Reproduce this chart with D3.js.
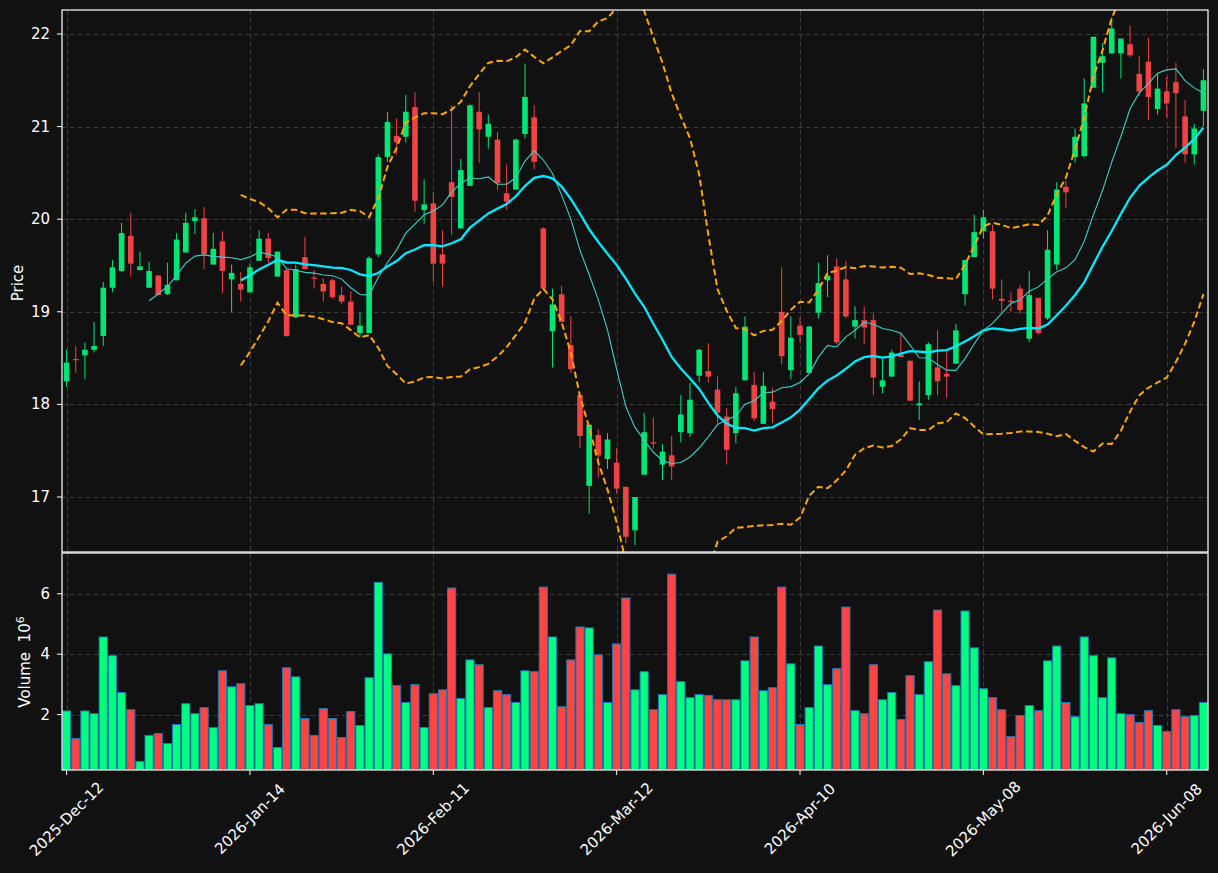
<!DOCTYPE html>
<html>
<head>
<meta charset="utf-8">
<script src="https://cdnjs.cloudflare.com/ajax/libs/d3/7.8.5/d3.min.js"></script>
<style>
  body { margin: 0; background: #111111; }
  text { font-family: "DejaVu Sans", sans-serif; fill: #ffffff; }
</style>
</head>
<body>
<div id="chart"></div>
<script>
// ---------------------------------------------------------
// DATA
// ---------------------------------------------------------

var opens = [18.25,18.49,18.53,18.59,18.74,19.26,19.44,19.82,19.45,19.26,
  19.39,19.19,19.34,19.64,19.98,20.01,19.51,19.76,19.35,19.30,
  19.21,19.55,19.79,19.38,19.45,18.94,19.59,19.37,19.30,19.34,
  19.18,19.11,18.77,18.77,19.62,20.67,20.90,20.89,21.21,20.10,
  20.17,19.62,20.40,19.90,20.36,21.16,20.89,20.86,20.28,20.32,
  20.92,21.10,19.90,18.79,19.19,18.64,18.10,17.12,17.67,17.41,
  17.37,17.11,16.64,17.24,17.59,17.35,17.45,17.70,17.69,18.31,
  18.36,18.16,17.87,17.69,18.26,18.21,17.79,18.03,19.00,18.37,
  18.85,18.34,18.99,19.34,19.49,19.35,18.84,18.91,18.91,18.19,
  18.30,18.54,18.47,17.99,18.10,18.40,18.33,18.44,19.19,19.59,
  19.87,19.87,19.14,19.12,19.25,18.71,19.15,18.93,19.51,20.35,
  20.67,20.68,21.42,21.69,21.79,21.79,21.89,21.57,21.70,21.19,
  21.38,21.48,21.11,20.70,21.17];

var highs = [18.59,18.63,18.67,18.89,19.32,19.56,19.96,20.07,19.65,19.54,
  19.40,19.53,19.85,20.07,20.11,20.13,19.85,19.87,19.51,19.43,
  19.52,19.88,19.85,19.65,19.46,19.51,19.81,19.45,19.36,19.36,
  19.27,19.22,18.99,19.60,20.70,21.16,21.09,21.34,21.37,20.43,
  20.29,19.88,21.23,20.65,21.24,21.37,21.13,20.94,20.59,20.87,
  21.68,21.23,19.91,19.25,19.28,18.95,18.10,17.78,17.73,17.69,
  17.53,17.11,17.00,17.91,17.86,17.57,17.66,18.10,18.23,18.60,
  18.66,18.30,17.96,18.19,18.95,18.35,18.35,18.18,19.48,18.95,
  18.94,18.85,19.53,19.61,19.58,19.55,19.06,19.06,18.98,18.50,
  18.59,18.77,18.48,18.25,18.67,18.80,18.58,18.87,19.56,20.05,
  20.10,19.94,19.35,19.21,19.29,19.44,19.15,19.88,20.40,20.42,
  20.98,21.52,21.97,21.90,22.18,21.95,22.09,21.76,21.96,21.57,
  21.54,21.69,21.29,21.03,21.62];

var lows = [18.19,18.34,18.27,18.56,18.63,19.21,19.43,19.38,19.45,19.26,
  19.18,19.18,19.34,19.64,19.84,19.46,19.51,19.20,19.00,19.11,
  19.21,19.55,19.53,19.38,18.73,18.93,19.46,19.25,19.11,19.14,
  19.08,18.86,18.72,18.77,19.59,20.62,20.70,20.83,20.08,19.95,
  19.32,19.27,19.83,19.90,20.36,20.61,20.76,20.32,20.10,20.32,
  20.87,20.54,19.25,18.40,18.89,18.34,17.53,16.82,17.21,17.30,
  17.04,16.50,16.48,17.24,17.52,17.18,17.18,17.59,17.65,18.24,
  18.24,17.80,17.35,17.58,18.26,17.82,17.79,17.80,18.43,18.27,
  18.67,18.34,18.93,19.16,18.65,18.93,18.71,18.65,18.10,18.12,
  18.30,18.51,18.04,17.83,18.05,18.10,18.07,18.44,19.07,19.59,
  19.79,19.13,19.00,19.00,18.98,18.67,18.75,18.91,19.45,20.12,
  20.61,20.67,21.42,21.37,21.79,21.52,21.75,21.33,21.07,21.13,
  21.10,20.77,20.61,20.59,21.00];

var closes = [18.45,18.48,18.59,18.63,19.26,19.48,19.85,19.52,19.49,19.44,
  19.18,19.29,19.78,19.96,20.02,19.62,19.68,19.44,19.42,19.24,
  19.48,19.79,19.58,19.65,18.74,19.46,19.46,19.36,19.22,19.16,
  19.11,18.86,18.85,19.58,20.67,21.05,20.83,21.16,20.20,20.16,
  19.52,19.52,20.24,20.53,21.23,20.97,21.03,20.39,20.19,20.86,
  21.32,20.62,19.25,19.08,18.89,18.38,17.66,17.78,17.45,17.62,
  17.09,16.57,17.00,17.70,17.58,17.49,17.33,17.89,18.05,18.59,
  18.30,17.91,17.51,18.12,18.84,17.85,18.20,17.95,18.52,18.72,
  18.75,18.84,19.31,19.39,18.67,18.95,18.91,18.83,18.29,18.26,
  18.56,18.51,18.04,18.01,18.65,18.25,18.30,18.80,19.56,19.86,
  20.02,19.25,19.12,19.11,19.02,19.18,18.77,19.67,20.32,20.29,
  20.89,21.25,21.97,21.76,22.06,21.95,21.77,21.38,21.32,21.41,
  21.25,21.36,20.70,20.98,21.50];

// volume in millions
var volumes = [2.12,1.21,2.12,2.03,4.57,3.95,2.73,2.16,0.45,1.31,
  1.37,1.04,1.67,2.36,2.03,2.23,1.57,3.45,2.92,3.02,
  2.30,2.36,1.67,0.91,3.55,3.25,1.87,1.31,2.20,1.87,
  1.24,2.10,1.64,3.22,6.38,4.01,2.96,2.40,2.99,1.57,
  2.69,2.82,6.19,2.53,3.81,3.65,2.23,2.79,2.66,2.40,
  3.45,3.42,6.22,4.57,2.26,3.81,4.90,4.87,3.98,2.40,
  4.34,5.86,2.82,3.42,2.16,2.66,6.65,3.09,2.56,2.66,
  2.63,2.49,2.49,2.49,3.78,4.57,2.79,2.89,6.22,3.68,
  1.67,2.23,4.27,2.99,3.52,5.56,2.13,2.03,3.65,2.49,
  2.73,1.84,3.29,2.66,3.75,5.46,3.35,2.96,5.43,4.21,
  2.86,2.56,2.16,1.27,1.97,2.30,2.13,3.78,4.27,2.40,
  1.93,4.57,3.95,2.56,3.88,2.03,2.00,1.74,2.13,1.64,
  1.44,2.16,1.93,1.97,2.40];

var xTickIndex = [0, 20, 40, 60, 80, 100, 120];
var xTickLabels = ["2025-Dec-12", "2026-Jan-14", "2026-Feb-11", "2026-Mar-12",
  "2026-Apr-10", "2026-May-08", "2026-Jun-08"];
var priceTicks = [17, 18, 19, 20, 21, 22];
var volumeTicks = [2, 4, 6];

// ---------------------------------------------------------
// SET UP PARAMETERS
// ---------------------------------------------------------

var svgWidth = 1218;
var svgHeight = 873;

var plotLeft = 62;
var plotRight = 1208;
var priceTop = 10;
var priceBottom = 552;
var volTop = 553;
var volBottom = 770;

var upColor = "#00e676";
var downColor = "#ef4444";
var volUp = "#00ff7f";
var volDown = "#ff4444";
var gridColor = "#3a3a3a";
var fontSize = "15px";

var candles = opens.map(function(o, i) {
  return { i: i, open: o, high: highs[i], low: lows[i], close: closes[i], volume: volumes[i] };
});

var svg = d3.select("#chart")
  .append("svg")
  .attr("width", svgWidth)
  .attr("height", svgHeight);

svg.append("rect")
  .attr("width", svgWidth)
  .attr("height", svgHeight)
  .attr("fill", "#111111");

// scales
var xScale = d3.scaleLinear()
  .domain([-0.5, candles.length - 0.5])
  .range([plotLeft, plotRight]);

var yPrice = d3.scaleLinear()
  .domain([16.406, 22.259])
  .range([priceBottom, priceTop]);

var yVol = d3.scaleLinear()
  .domain([0.165, 7.35])
  .range([volBottom, volTop]);

var defs = svg.append("defs");
defs.append("clipPath").attr("id", "clipPrice")
  .append("rect")
  .attr("x", plotLeft).attr("y", priceTop)
  .attr("width", plotRight - plotLeft).attr("height", priceBottom - priceTop);
defs.append("clipPath").attr("id", "clipVol")
  .append("rect")
  .attr("x", plotLeft).attr("y", volTop)
  .attr("width", plotRight - plotLeft).attr("height", volBottom - volTop);

// ---------------------------------------------------------
// GRID
// ---------------------------------------------------------

var grid = svg.append("g")
  .attr("stroke", gridColor)
  .attr("stroke-width", 1)
  .attr("stroke-dasharray", "5,3");

xTickIndex.forEach(function(t) {
  var x = Math.round(xScale(t)) + 0.5;
  grid.append("line").attr("x1", x).attr("x2", x).attr("y1", priceTop).attr("y2", priceBottom);
  grid.append("line").attr("x1", x).attr("x2", x).attr("y1", volTop).attr("y2", volBottom);
});
priceTicks.forEach(function(p) {
  var y = Math.round(yPrice(p)) + 0.5;
  grid.append("line").attr("x1", plotLeft).attr("x2", plotRight).attr("y1", y).attr("y2", y);
});
volumeTicks.forEach(function(v) {
  var y = Math.round(yVol(v)) + 0.5;
  grid.append("line").attr("x1", plotLeft).attr("x2", plotRight).attr("y1", y).attr("y2", y);
});

// ---------------------------------------------------------
// CANDLES
// ---------------------------------------------------------

var priceGroup = svg.append("g").attr("clip-path", "url(#clipPrice)");

priceGroup.selectAll(".wick")
  .data(candles)
  .enter()
  .append("line")
  .attr("class", "wick")
  .attr("x1", d => xScale(d.i))
  .attr("x2", d => xScale(d.i))
  .attr("y1", d => yPrice(d.high))
  .attr("y2", d => yPrice(d.low))
  .attr("stroke", d => d.close >= d.open ? upColor : downColor)
  .attr("stroke-width", 1);

var bodyWidth = 5.6;
priceGroup.selectAll(".body")
  .data(candles)
  .enter()
  .append("rect")
  .attr("class", "body")
  .attr("x", d => xScale(d.i) - bodyWidth / 2)
  .attr("y", d => yPrice(Math.max(d.open, d.close)))
  .attr("width", bodyWidth)
  .attr("height", d => Math.max(1.2, Math.abs(yPrice(d.open) - yPrice(d.close))))
  .attr("fill", d => d.close >= d.open ? upColor : downColor);

// ---------------------------------------------------------
// MOVING AVERAGES + BOLLINGER BANDS (from closes)
// ---------------------------------------------------------

function rolling(n) {
  var out = [];
  for (var i = n - 1; i < closes.length; i++) {
    var win = closes.slice(i - n + 1, i + 1);
    var m = d3.mean(win);
    var sd = Math.sqrt(d3.mean(win, c => (c - m) * (c - m)));
    out.push({ i: i, mean: m, up: m + 2 * sd, lo: m - 2 * sd });
  }
  return out;
}

var ma10 = rolling(10);
var ma20 = rolling(20);

var line = function(key) {
  return d3.line().x(d => xScale(d.i)).y(d => yPrice(d[key]));
};

["up", "lo"].forEach(function(key) {
  priceGroup.append("path")
    .datum(ma20)
    .attr("d", line(key))
    .attr("fill", "none")
    .attr("stroke", "#ffa500")
    .attr("stroke-width", 2)
    .attr("stroke-dasharray", "6.5,3.5");
});

priceGroup.append("path")
  .datum(ma10)
  .attr("d", line("mean"))
  .attr("fill", "none")
  .attr("stroke", "#3ccfc6")
  .attr("stroke-width", 1.1);

priceGroup.append("path")
  .datum(ma20)
  .attr("d", line("mean"))
  .attr("fill", "none")
  .attr("stroke", "#00eaff")
  .attr("stroke-width", 2.3);

// ---------------------------------------------------------
// VOLUME
// ---------------------------------------------------------

var volGroup = svg.append("g").attr("clip-path", "url(#clipVol)");
var volWidth = 8.2;

volGroup.selectAll(".vol")
  .data(candles)
  .enter()
  .append("rect")
  .attr("class", "vol")
  .attr("x", d => xScale(d.i) - volWidth / 2)
  .attr("y", d => yVol(d.volume))
  .attr("width", volWidth)
  .attr("height", d => volBottom + 2 - yVol(d.volume))
  .attr("fill", d => d.close >= d.open ? volUp : volDown)
  .attr("stroke", "#1f77b4")
  .attr("stroke-width", 1);

// ---------------------------------------------------------
// AXES + FRAMES
// ---------------------------------------------------------

var frames = svg.append("g")
  .attr("fill", "none")
  .attr("stroke", "#ffffff")
  .attr("stroke-width", 1.2);
frames.append("rect")
  .attr("x", plotLeft).attr("y", priceTop)
  .attr("width", plotRight - plotLeft).attr("height", priceBottom - priceTop);
frames.append("rect")
  .attr("x", plotLeft).attr("y", volTop)
  .attr("width", plotRight - plotLeft).attr("height", volBottom - volTop);

var ticks = svg.append("g").attr("stroke", "#ffffff").attr("stroke-width", 1);

priceTicks.forEach(function(p) {
  var y = yPrice(p);
  ticks.append("line").attr("x1", plotLeft - 5).attr("x2", plotLeft).attr("y1", y).attr("y2", y);
  svg.append("text")
    .attr("x", plotLeft - 12)
    .attr("y", y)
    .attr("text-anchor", "end")
    .attr("dominant-baseline", "central")
    .attr("font-size", fontSize)
    .text(p);
});

volumeTicks.forEach(function(v) {
  var y = yVol(v);
  ticks.append("line").attr("x1", plotLeft - 5).attr("x2", plotLeft).attr("y1", y).attr("y2", y);
  svg.append("text")
    .attr("x", plotLeft - 12)
    .attr("y", y)
    .attr("text-anchor", "end")
    .attr("dominant-baseline", "central")
    .attr("font-size", fontSize)
    .text(v);
});

xTickIndex.forEach(function(t, k) {
  var x = xScale(t);
  ticks.append("line").attr("x1", x).attr("x2", x).attr("y1", volBottom).attr("y2", volBottom + 5);
  svg.append("text")
    .attr("x", x)
    .attr("y", 819)
    .attr("text-anchor", "middle")
    .attr("dominant-baseline", "central")
    .attr("font-size", fontSize)
    .attr("transform", `rotate(-45, ${x}, 819)`)
    .text(xTickLabels[k]);
});

// axis titles
svg.append("text")
  .attr("transform", "translate(18, 283) rotate(-90)")
  .attr("text-anchor", "middle")
  .attr("dominant-baseline", "central")
  .attr("font-size", fontSize)
  .text("Price");

var volLabel = svg.append("text")
  .attr("transform", "translate(25, 662) rotate(-90)")
  .attr("text-anchor", "middle")
  .attr("dominant-baseline", "central")
  .attr("font-size", fontSize);
volLabel.append("tspan").text("Volume\u00a0\u00a010");
volLabel.append("tspan")
  .attr("dy", "-0.5em")
  .attr("font-size", "11px")
  .text("6");
</script>
</body>
</html>
